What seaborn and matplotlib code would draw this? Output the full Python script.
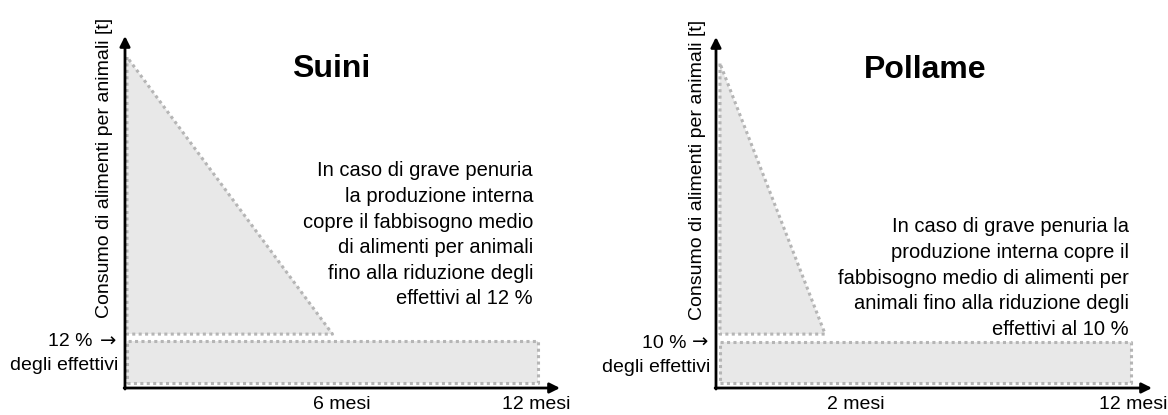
import matplotlib
matplotlib.use("Agg")
import matplotlib.pyplot as plt
import seaborn as sns
import pandas as pd

# ---------------- data ----------------
titles = ["Suini", "Pollame"]
peak = [100, 98]                 # consumption at start (relative)
tri_base = [15, 15]              # level where the decline ends
decline_end = [6, 3.07]          # months until reduction is reached
floor_level = [13, 12.6]         # remaining herd level (strip height)
horizon = [12, 12]               # months shown
pct_labels = ["12 %", "10 %"]
tick_pos = [[6.28, 11.94], [3.97, 12.06]]
tick_labels = [["6 mesi", "12 mesi"], ["2 mesi", "12 mesi"]]
notes = [
    "In caso di grave penuria\nla produzione interna\ncopre il fabbisogno medio\n"
    "di alimenti per animali\nfino alla riduzione degli\neffettivi al 12 %",
    "In caso di grave penuria la\nproduzione interna copre il\n"
    "fabbisogno medio di alimenti per\nanimali fino alla riduzione degli\n"
    "effettivi al 10 %",
]
ylabel = "Consumo di alimenti per animali [t]"

# ---------------- style ----------------
sns.set_theme(style="white")
plt.rcParams["font.family"] = ["Liberation Sans", "DejaVu Sans"]

W, H = 1168, 415
fig = plt.figure(figsize=(W / 100, H / 100), dpi=100)

# axes placement in pixels: (left, right, bottom, top)
axpix = [(125, 560, 388, 36), (716, 1152, 388, 37)]
x0pix = [127, 720]
xscale = 34.25
y0pix = 383
yscale = 3.26

fill_col = "#e8e8e8"
edge_col = "#b5b5b5"
FS = 14

title_pos = [(0.474, 0.906), (0.479, 0.906)]
note_pos = [(0.938, 0.435), (0.947, 0.313)]
ylabel_coords = [(-0.028, 0.625), (-0.023, 0.621)]
pct_pos = [(-0.0736, 0.131), (-0.0688, 0.128)]
arr_pos = [(-0.021, 0.133), (-0.018, 0.130)]
degli_pos = [(-0.016, 0.065), (-0.014, 0.057)]

for i in range(2):
    l, r, b, t = axpix[i]
    ax = fig.add_axes([l / W, (H - b) / H, (r - l) / W, (b - t) / H])
    ax.set_xlim((l - x0pix[i]) / xscale, (r - x0pix[i]) / xscale)
    ax.set_ylim((y0pix - b) / yscale, (y0pix - t) / yscale)

    tri = pd.DataFrame({
        "x": [0, 0, decline_end[i], 0],
        "y": [peak[i], tri_base[i], tri_base[i], peak[i]],
    })
    rect = pd.DataFrame({
        "x": [0, horizon[i], horizon[i], 0, 0],
        "y": [0, 0, floor_level[i], floor_level[i], 0],
    })
    for df in (tri, rect):
        ax.fill(df["x"], df["y"], color=fill_col, lw=0, zorder=1)
        sns.lineplot(data=df, x="x", y="y", sort=False, estimator=None,
                     ax=ax, color=edge_col, lw=2.2, linestyle=(0, (1, 1.1)),
                     zorder=2)

    for s in ax.spines.values():
        s.set_visible(False)
    ax.set_facecolor("none")
    ax.grid(False)

    arrow = dict(arrowstyle="-|>", lw=2, color="black", mutation_scale=15,
                 shrinkA=0, shrinkB=0)
    ax.annotate("", xy=(1, 0), xytext=(-0.002, 0), xycoords="axes fraction",
                textcoords="axes fraction", arrowprops=arrow, zorder=5)
    ax.annotate("", xy=(0, 1), xytext=(0, -0.003), xycoords="axes fraction",
                textcoords="axes fraction", arrowprops=arrow, zorder=5)

    ax.set_xticks(tick_pos[i], tick_labels[i])
    ax.set_yticks([])
    ax.tick_params(axis="x", length=0, pad=6, labelsize=FS, colors="black")
    ax.set_xlabel("")

    ax.set_ylabel(ylabel, fontsize=FS, color="black")
    ax.yaxis.set_label_coords(*ylabel_coords[i])

    ax.text(*title_pos[i], titles[i], transform=ax.transAxes, ha="center",
            va="center", fontsize=23, fontweight="bold", color="black")
    ax.text(*note_pos[i], notes[i], transform=ax.transAxes, ha="right",
            va="center", multialignment="right", fontsize=14.5,
            linespacing=1.44, color="black")
    ax.text(*pct_pos[i], pct_labels[i], transform=ax.transAxes, ha="right",
            va="center", fontsize=FS, color="black")
    ax.text(*arr_pos[i], "\u2192", transform=ax.transAxes, ha="right",
            va="center", fontsize=FS, color="black", family="DejaVu Sans")
    ax.text(*degli_pos[i], "degli effettivi", transform=ax.transAxes,
            ha="right", va="center", fontsize=FS, color="black")

fig.savefig("out.png", dpi=100, facecolor="white")
